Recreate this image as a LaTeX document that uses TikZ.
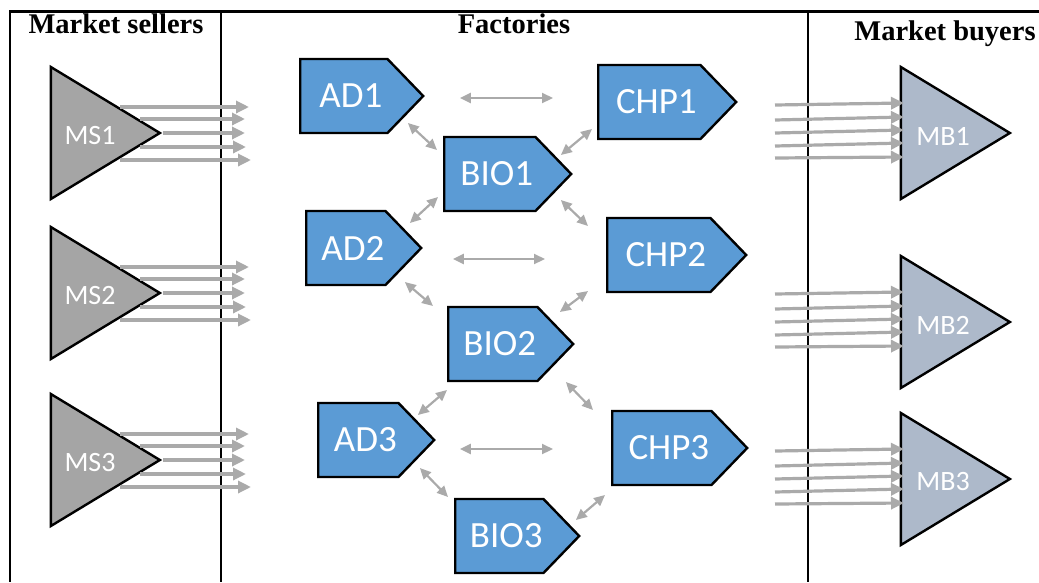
\documentclass[tikz,border=0pt]{standalone}
\usepackage{fontspec}
\setmainfont{Carlito}
\newfontfamily\headfont{Liberation Serif}
\usetikzlibrary{arrows.meta,shapes.geometric,shapes.symbols}

\definecolor{plantblue}{HTML}{5B9BD5}
\definecolor{sellgray}{HTML}{A5A5A5}
\definecolor{buyblue}{HTML}{ADB9CA}
\definecolor{linkgray}{HTML}{AAAAAA}

\tikzset{
  frame/.style={line width=2.6pt},
  head/.style={font=\headfont\bfseries\fontsize{28.5}{28.5}\selectfont, anchor=base},
  plant/.style={signal, signal to=east, signal pointer angle=92, draw, line width=2.4pt,
    fill=plantblue, text=white, minimum height=74pt, inner sep=0pt, anchor=west,
    font=\fontsize{37}{37}\selectfont, execute at begin node={\hspace*{14pt}}},
  market/.style={isosceles triangle, isosceles triangle stretches, draw, line width=2.4pt,
    minimum width=132pt, minimum height=109pt, inner sep=0pt, anchor=apex},
  mtext/.style={text=white, font=\fontsize{28}{28}\selectfont},
  flow/.style={draw=linkgray, line width=3.2pt, -{Triangle[length=13pt,width=12pt]}},
  link/.style={draw=linkgray, line width=2.2pt,
    {Triangle[length=11pt,width=10pt]}-{Triangle[length=11pt,width=10pt]}},
}

\begin{document}
\begin{tikzpicture}[x=1pt, y=-1pt]
  \useasboundingbox (0,0) rectangle (1039,582);
  % frame and columns
  \draw[frame] (1039,11.5) -- (10,11.5) -- (10,582);
  \draw[frame] (221,11.5) -- (221,582);
  \draw[frame] (808,11.5) -- (808,582);
  \node[head] (sellers) at (116,33) {Market sellers};
  \node[head] (factories) at (514,33) {Factories};
  \node[head] (buyers) at (945,40) {Market buyers};

  % market sellers
  \foreach \i/\y in {1/133, 2/293, 3/460} {
    \node[market, fill=sellgray] (ms\i) at (163,\y) {};
    \node[mtext] (lms\i) at ([shift={(-73,3)}]ms\i.apex) {MS\i};
    \foreach \d/\s/\l in {-26/-43/129, -14/-23/105, 0/0/82, 14/-23/106, 27/-43/131}
      \draw[flow] ([shift={(\s,\d)}]ms\i.apex) -- ++(\l,0);
  }

  % market buyers
  \foreach \i/\y in {1/133, 2/322, 3/479} {
    \node[market, fill=buyblue] (mb\i) at (1013,\y) {};
    \node[mtext] (lmb\i) at ([shift={(-70,3)}]mb\i.apex) {MB\i};
    \foreach \s/\e in {-28/-30, -13/-16, 0/-3, 13/10, 25/24}
      \draw[flow] ([shift={(-238,\s)}]mb\i.apex) -- ([shift={(-109,\e)}]mb\i.apex);
  }

  % factories
  \node[plant, minimum width=123pt] (ad1) at (299,96) {AD1};
  \node[plant, minimum width=138pt] (chp1) at (597,102) {CHP1};
  \node[plant, minimum width=127pt] (bio1) at (443,174) {BIO1};
  \node[plant, minimum width=115pt] (ad2) at (305,248) {AD2};
  \node[plant, minimum width=139pt] (chp2) at (606,255) {CHP2};
  \node[plant, minimum width=125pt] (bio2) at (447,344) {BIO2};
  \node[plant, minimum width=116pt] (ad3) at (317,440) {AD3};
  \node[plant, minimum width=135pt] (chp3) at (611,448) {CHP3};
  \node[plant, minimum width=124pt] (bio3) at (454,536) {BIO3};

  % links between factories
  \draw[link] ([shift={(35,2)}]ad1.east) -- ([shift={(-44,-4)}]chp1.west);
  \draw[link] ([shift={(-17,27)}]ad1.east) -- ([shift={(-6,-24)}]bio1.west);
  \draw[link] ([shift={(-12,-19)}]bio1.east) -- ([shift={(-5,27)}]chp1.west);
  \draw[link] ([shift={(-5,23)}]bio1.west) -- ([shift={(-13,-25)}]ad2.east);
  \draw[link] ([shift={(-12,26)}]bio1.east) -- ([shift={(-18,-29)}]chp2.west);
  \draw[link] ([shift={(30,11)}]ad2.east) -- ([shift={(-61,4)}]chp2.west);
  \draw[link] ([shift={(-18,34)}]ad2.east) -- ([shift={(-14,-38)}]bio2.west);
  \draw[link] ([shift={(-15,-32)}]bio2.east) -- ([shift={(-18,36)}]chp2.west);
  \draw[link] ([shift={(0,46)}]bio2.west) -- ([shift={(-18,-25)}]ad3.east);
  \draw[link] ([shift={(-9,38)}]bio2.east) -- ([shift={(-18,-38)}]chp3.west);
  \draw[link] ([shift={(24,9)}]ad3.east) -- ([shift={(-58,1)}]chp3.west);
  \draw[link] ([shift={(-16,28)}]ad3.east) -- ([shift={(-6,-39)}]bio3.west);
  \draw[link] ([shift={(-5,-16)}]bio3.east) -- ([shift={(-6,47)}]chp3.west);
\end{tikzpicture}
\end{document}
